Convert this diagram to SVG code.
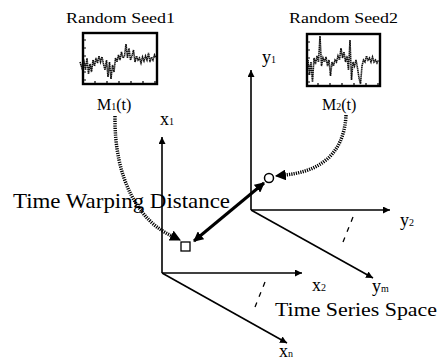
<svg xmlns="http://www.w3.org/2000/svg" width="441" height="360" viewBox="0 0 441 360">
<style>
text{font-family:"Liberation Serif","Times New Roman",serif;fill:#000}
.lbl{font-size:18px}
.sub{font-size:10px}
.axis{stroke:#000;stroke-width:1.6;fill:none}
.box{fill:#fff;stroke:#000;stroke-width:2.4}
.data{fill:none;stroke:#111;stroke-width:1.6;stroke-dasharray:1.4 0.5}
.tick{stroke:#000;stroke-width:1.2}
.dot{fill:none;stroke:#000;stroke-width:3.5;stroke-dasharray:1.2 1.1}
</style>
<defs>
<marker id="ah" viewBox="0 0 10 10" refX="10" refY="5" markerWidth="7" markerHeight="7" markerUnits="userSpaceOnUse" orient="auto"><path d="M0,0 L10,5 L0,10 z" fill="#000"/></marker>
<marker id="ahb" viewBox="0 0 10 10" refX="9" refY="5" markerWidth="10" markerHeight="10" markerUnits="userSpaceOnUse" orient="auto-start-reverse"><path d="M0,0 L10,5 L0,10 z" fill="#000"/></marker>
<marker id="ahd" viewBox="0 0 10 10" refX="9" refY="5" markerWidth="11" markerHeight="11" markerUnits="userSpaceOnUse" orient="auto"><path d="M0,0 L10,5 L0,10 z" fill="#000"/></marker>
</defs>
<rect width="441" height="360" fill="#fff"/>

<g id="seed1">
<text x="66" y="23" font-size="15" textLength="109" lengthAdjust="spacingAndGlyphs">Random Seed1</text>
<rect class="box" x="83" y="33" width="74" height="51"/>
<path class="tick" d="M83,40h3M83,48h3M83,56h3M83,64h3M83,72h3M83,80h3M95,84v-3M107,84v-3M119,84v-3M131,84v-3M143,84v-3M155,84v-3"/>
<polyline class="data" points="80,62 82,68 84,62 85.5,70 87,58 88.5,74 90,64 91.5,72 93,60 94.5,66 96,58 97.5,63 99,56 100.5,62 102,57 103.5,64 105,70 106.5,60 108,77 109.5,62 111,79 112.5,65 114,72 115.5,58 117,62 118.5,55 120,60 121.5,52 123,58 124.5,56 126,44 127.5,58 129,48 130.5,60 132,56 133.5,50 135,62 136.5,56 138,60 139.5,58 141,63 142.5,57 144,61 145.5,56 147,60 148.5,53 150,62 151.5,57 153,60 154.5,55 156,58"/>
<text x="97" y="110" font-size="16">M<tspan class="sub">1</tspan>(t)</text>
</g>

<g id="seed2">
<text x="289" y="23" font-size="15" textLength="109" lengthAdjust="spacingAndGlyphs">Random Seed2</text>
<rect class="box" x="307" y="34" width="73" height="52"/>
<path class="tick" d="M307,42h3M307,50h3M307,58h3M307,66h3M307,74h3M307,82h3M318,86v-3M330,86v-3M342,86v-3M354,86v-3M366,86v-3M378,86v-3"/>
<polyline class="data" points="308,60 309.5,75 311,62 312.5,82 314,58 315.5,64 317,56 318.5,62 320,36 321.5,66 323,58 324.5,62 326,57 327.5,66 329,60 330.5,76 332,62 333.5,66 335,60 336.5,62 338,56 339.5,60 341,48 342.5,58 344,52 345.5,62 347,56 348.5,70 350,40 351.5,80 353,62 354.5,66 356,60 357.5,68 359,78 360.5,84 362,66 363.5,60 365,62 366.5,56 368,60 369.5,58 371,62 372.5,57 374,62 375.5,60 377,63 378.5,60"/>
<text x="322" y="110" font-size="16">M<tspan class="sub">2</tspan>(t)</text>
</g>

<g id="x-space">
<text class="lbl" x="160" y="125">x<tspan class="sub">1</tspan></text>
<text class="lbl" x="312" y="291">x<tspan class="sub">2</tspan></text>
<text class="lbl" x="279" y="357">x<tspan class="sub">n</tspan></text>
</g>

<g id="y-space">
<text class="lbl" x="262" y="63">y<tspan class="sub">1</tspan></text>
<text class="lbl" x="400" y="226">y<tspan class="sub">2</tspan></text>
<text class="lbl" x="372" y="292">y<tspan class="sub">m</tspan></text>
</g>

<g id="point-x"><rect x="181" y="242" width="9" height="9" fill="#fff" stroke="#000" stroke-width="1.3"/></g>
<g id="point-y"><circle cx="269" cy="178" r="4.5" fill="#fff" stroke="#000" stroke-width="1.5"/></g>

<g id="titles">
<text x="13" y="208" font-size="21" textLength="217" lengthAdjust="spacingAndGlyphs">Time Warping Distance</text>
<text x="275" y="316" font-size="19" textLength="162" lengthAdjust="spacingAndGlyphs">Time Series Space</text>
</g>

<g id="connectors">
<line class="axis" x1="162" y1="273" x2="162" y2="137" marker-end="url(#ah)"/>
<line class="axis" x1="162" y1="273" x2="302" y2="273" marker-end="url(#ah)"/>
<line class="axis" x1="162" y1="273" x2="287" y2="343" marker-end="url(#ah)"/>
<line x1="265" y1="282" x2="255" y2="307" stroke="#000" stroke-width="1.3" stroke-dasharray="5 6"/>
<line class="axis" x1="251" y1="210" x2="251" y2="70" marker-end="url(#ah)"/>
<line class="axis" x1="251" y1="210" x2="390" y2="210" marker-end="url(#ah)"/>
<line class="axis" x1="251" y1="210" x2="373" y2="278" marker-end="url(#ah)"/>
<line x1="353" y1="217" x2="343" y2="242" stroke="#000" stroke-width="1.3" stroke-dasharray="5 6"/>
<path class="dot" d="M115,116 C114,180 140,222 172,236" />
<path d="M172,236 L180,240" stroke="#000" stroke-width="1" marker-end="url(#ahd)"/>
<path class="dot" d="M346,115 C344,158 315,172 285,175"/>
<path d="M285,175 L276,176" stroke="#000" stroke-width="1" marker-end="url(#ahd)"/>
<line x1="194" y1="241" x2="264" y2="183" stroke="#000" stroke-width="3" marker-start="url(#ahb)" marker-end="url(#ahb)"/>
</g>
</svg>
